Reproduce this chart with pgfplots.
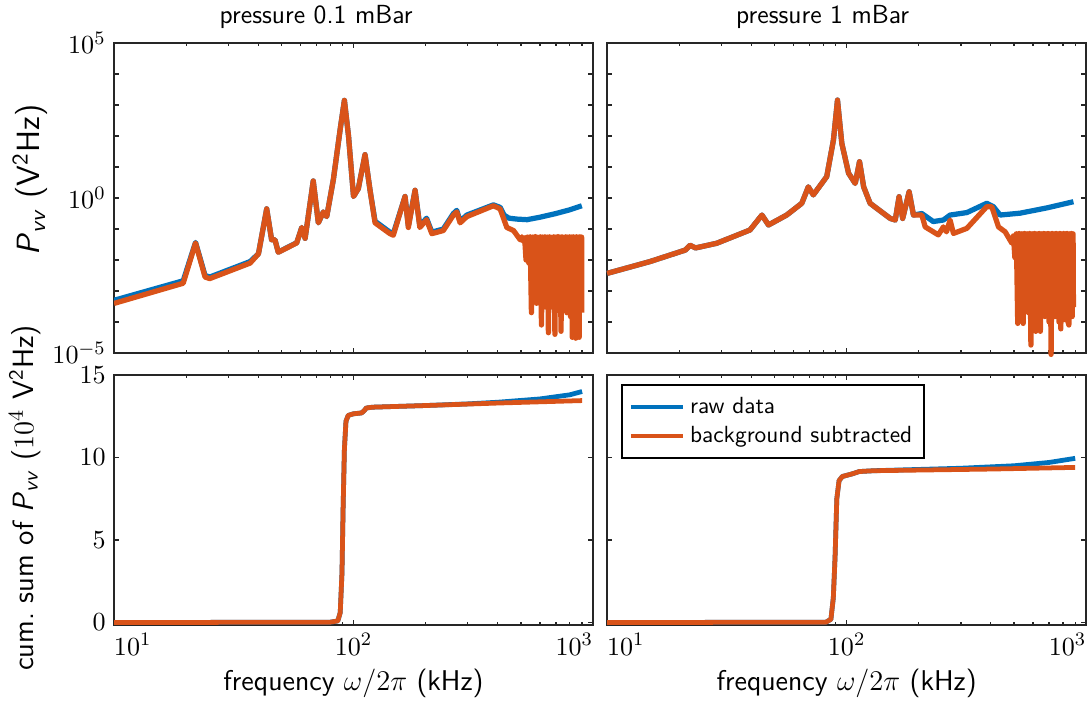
\documentclass[border=0pt]{standalone}
\usepackage{pgfplots}
\pgfplotsset{compat=1.18}
\usepgfplotslibrary{groupplots}
\renewcommand{\familydefault}{\sfdefault}
\definecolor{mblue}{rgb}{0,0.447,0.741}
\definecolor{morange}{rgb}{0.85,0.325,0.098}
\definecolor{axgray}{rgb}{0.15,0.15,0.15}

\begin{document}
\begin{tikzpicture}
\begin{groupplot}[
  group style={group size=2 by 2, horizontal sep=5.9pt, vertical sep=9.24pt},
  scale only axis, width=201.2pt,
  xmode=log, xmin=10, xmax=1000, xtick={10,100,1000},
  axis line style={axgray, line width=0.8pt},
  tick style={axgray, line width=0.5pt},
  tick align=inside, major tick length=2.1pt, minor tick length=1.3pt,
  tick label style={font=\fontsize{11}{13}\selectfont},
  every axis title shift=0pt,
  title style={anchor=center, font=\fontsize{11}{13}\selectfont},
  xlabel style={font=\fontsize{12}{14}\selectfont},
]

% ---- 0.1 mBar: spectral density ----
\nextgroupplot[
  ymode=log, ymin=1e-5, ymax=1e5, height=130.2pt,
  ytick={1e-5,1e-4,1e-3,1e-2,1e-1,1,10,100,1e3,1e4,1e5},
  yminorticks=false, xticklabels={},
  yticklabels={$10^{-5}$,,,,,$10^{0}$,,,,,$10^{5}$},
  title={pressure 0.1 mBar},
  title style={at={(axis description cs:0.422,1.084)}},
  ylabel={\textit{P}\textsubscript{\textit{vv}} (V\textsuperscript{2}Hz)},
  ylabel style={at={(axis description cs:-0.175,0.558)}, anchor=center,
    font=\fontsize{13.5}{16}\selectfont}]
\coordinate (tl) at (rel axis cs:0,1);
\addplot[mblue, line width=2.2pt, line join=round] table {
10 5.01e-4
19.45 2.14e-3
21.9 3.7e-2
24.0 3.16e-3
25.1 2.82e-3
37.0 8.9e-3
40.1 1.6e-2
43.4 0.447
45.5 4.5e-2
47.0 4.5e-2
48.5 1.8e-2
57.9 3.6e-2
60.8 0.112
62.8 5.0e-2
67.9 3.55
71.3 0.158
74.8 0.355
77.3 0.251
82.4 3.98
87.9 158.5
91.6 1413
95.3 100
100 1.12
104.7 2.0
111.7 25.1
117.2 1.78
123.0 0.178
141.9 7.9e-2
146.6 7.1e-2
164.1 1.12
169.4 0.126
180.7 1.78
189.2 0.126
201.8 0.224
212.3 7.9e-2
237.1 0.1
261.2 0.316
269.8 0.4
278.6 0.178
297.2 0.282
383.7 0.60
409.3 0.50
425 0.282
445 0.224
480 0.209
530 0.200
600 0.240
700 0.316
800 0.417
897.5 0.562
};
\addplot[morange, line width=2.2pt, line join=round] table {
10 3.98e-4
19.45 1.78e-3
21.9 3.55e-2
24.0 2.82e-3
25.1 2.51e-3
37.0 7.94e-3
40.1 1.585e-2
43.4 0.447
45.5 4.47e-2
47.0 4.47e-2
48.5 1.78e-2
57.9 3.55e-2
60.8 0.112
62.8 5.01e-2
67.9 3.55
71.3 0.158
74.8 0.355
77.3 0.251
82.4 3.98
87.9 158.5
91.6 1413
95.3 100
100 1.12
104.7 2.0
111.7 25.1
117.2 1.78
123.0 0.158
141.9 7.08e-2
146.6 6.31e-2
164.1 1.12
169.4 0.112
180.7 1.78
189.2 0.112
201.8 0.200
212.3 7.08e-2
237.1 8.91e-2
261.2 0.282
269.8 0.355
278.6 0.158
297.2 0.251
383.7 0.562
409.3 0.447
436.5 0.112
465.6 8.91e-2
496.6 4.47e-2
504 0.056
511 0.040
518 0.052
525 0.010
532 0.055
539 0.008
546 0.056
553 2.0e-4
560 0.055
567 6e-4
574 0.057
581 4e-4
588 0.054
595 1e-3
602 0.056
609 8e-5
616 0.055
623 5e-4
630 0.056
637 3e-4
644 0.055
651 4.5e-5
658 0.056
665 6e-4
672 0.054
679 3e-4
686 0.056
693 4e-5
700 0.055
707 1e-3
714 0.057
721 5e-4
728 0.055
735 5e-5
742 0.056
749 8e-4
756 0.054
763 3e-4
770 0.056
777 2e-4
784 0.055
791 7e-4
798 0.056
805 1.5e-4
812 0.055
819 3.2e-5
826 0.056
833 6e-4
840 0.055
847 3e-5
854 0.056
861 5e-4
868 0.055
875 3.2e-5
882 0.056
889 4e-4
896 0.055
898 2e-4
};

% ---- 1 mBar: spectral density ----
\nextgroupplot[
  ymode=log, ymin=1e-5, ymax=1e5, height=130.2pt,
  ytick={1e-5,1e-4,1e-3,1e-2,1e-1,1,10,100,1e3,1e4,1e5},
  yminorticks=false, xticklabels={}, yticklabels={}, clip=false,
  title={pressure 1 mBar},
  title style={at={(axis description cs:0.45,1.084)}}]
\addplot[mblue, line width=2.2pt, line join=round] table {
10 3.7e-3
15.1 8.9e-3
21.2 2.09e-2
22.2 3.0e-2
23.4 2.45e-2
28.7 3.47e-2
39.5 9.3e-2
44.3 0.282
47.2 0.135
56.2 0.282
65.0 0.676
69.2 2.29
72.6 1.26
82.6 4.9
88.1 74.1
91.6 1445
95.5 57.5
101.9 6.31
108.6 2.95
113.2 14.8
117.8 2.29
125.3 0.676
152.1 0.219
159.6 0.195
165.6 1.10
171.4 0.219
182.4 1.585
190.1 0.282
206.1 0.316
230 0.174
253.5 0.195
270.4 0.282
317.7 0.339
384.6 0.676
410 0.525
437.5 0.282
529.7 0.324
685 0.479
885 0.759
};
\addplot[morange, line width=2.2pt, line join=round] table {
10 3.7e-3
15.1 8.9e-3
21.2 2.09e-2
22.2 3.0e-2
23.4 2.45e-2
28.7 3.47e-2
39.5 9.3e-2
44.3 0.282
47.2 0.135
56.2 0.282
65.0 0.676
69.2 2.29
72.6 1.26
82.6 4.9
88.1 74.1
91.6 1445
95.5 57.5
101.9 6.31
108.6 2.95
113.2 14.8
117.8 2.29
125.3 0.676
152.1 0.219
159.6 0.195
165.6 1.10
171.4 0.219
182.4 1.585
190.1 0.282
206.1 0.282
212.8 0.117
241.5 6.46e-2
253.5 0.117
261.2 8.1e-2
270.4 0.195
279.3 7.2e-2
317.7 0.105
384.6 0.525
403.6 0.525
430.5 0.117
459.2 8.1e-2
489.8 3.47e-2
497 0.060
504 0.012
511 0.070
518 9e-5
525 0.072
532 5e-4
539 0.070
546 9e-5
553 0.072
560 3e-4
567 0.070
574 2e-4
581 0.072
588 1.8e-5
595 0.070
602 3e-4
609 0.072
616 5e-5
623 0.070
630 2e-4
637 0.072
644 5e-5
651 0.070
658 3e-4
665 0.072
672 1.5e-4
679 0.070
686 2.5e-4
693 0.072
700 1e-4
707 0.070
714 9e-6
721 0.072
728 2e-4
735 0.070
742 1.5e-4
749 0.072
756 2.5e-4
763 0.070
770 1e-4
777 0.072
784 6e-5
791 0.070
798 2e-4
805 0.072
812 1.2e-4
819 0.070
826 2e-4
833 0.072
840 1e-4
847 8e-5
854 0.070
861 2e-4
868 0.072
875 1.5e-4
882 0.070
885 3e-4
};

% ---- 0.1 mBar: cumulative sum ----
\nextgroupplot[
  ymin=-0.15, ymax=15, ytick={0,5,10,15}, height=105pt,
  xticklabels={\makebox[0pt][l]{$10^{1}$},$10^{2}$,\makebox[0pt][r]{$10^{3}$}},
  xlabel={frequency $\omega/2\pi$ (kHz)},
  xlabel style={at={(axis description cs:0.5,-0.232)}, anchor=center},
  ylabel={cum.\ sum of \textit{P}\textsubscript{\textit{vv}} ($10^4$ V\textsuperscript{2}Hz)},
  ylabel style={at={(axis description cs:-0.186,0.508)}, anchor=center,
    font=\fontsize{12.3}{14.5}\selectfont}]
\addplot[mblue, line width=2pt, line join=round] table {
10 0
80 0.02
86 0.1
88 0.6
89.5 3
90.5 7
91.6 10.5
93 12.2
95 12.55
100 12.65
108 12.7
111 12.85
113 13.0
120 13.05
200 13.15
300 13.25
400 13.35
600 13.55
800 13.8
900 14.0
};
\addplot[morange, line width=2pt, line join=round] table {
10 0
80 0.02
86 0.1
88 0.6
89.5 3
90.5 7
91.6 10.5
93 12.2
95 12.55
100 12.65
108 12.7
111 12.85
113 13.0
120 13.05
200 13.15
400 13.3
900 13.45
};

% ---- 1 mBar: cumulative sum ----
\nextgroupplot[
  ymin=-0.15, ymax=15, ytick={0,5,10,15}, height=105pt, yticklabels={},
  xticklabels={\makebox[0pt][l]{$10^{1}$},$10^{2}$,\makebox[0pt][r]{$10^{3}$}},
  xlabel={frequency $\omega/2\pi$ (kHz)},
  xlabel style={at={(axis description cs:0.5,-0.232)}, anchor=center},
  legend style={at={(axis description cs:0.029,0.964)}, anchor=north west,
    draw=black, line width=0.8pt, font=\fontsize{9.8}{11.5}\selectfont,
    cells={anchor=west}, inner xsep=3pt, inner ysep=3pt},
  legend image code/.code={\draw[#1, line width=1.6pt] (0pt,0pt) -- (22pt,0pt);}]
\addplot[mblue, line width=2pt, line join=round] table {
10 0
82 0.02
86 0.2
88 1.5
89.5 4
91 7.5
93 8.6
96 8.85
105 9.0
113 9.15
130 9.2
300 9.35
500 9.5
700 9.7
900 9.95
};
\addlegendentry{raw data}
\addplot[morange, line width=2pt, line join=round] table {
10 0
82 0.02
86 0.2
88 1.5
89.5 4
91 7.5
93 8.6
96 8.85
105 9.0
113 9.15
130 9.2
400 9.3
900 9.4
};
\addlegendentry{background subtracted}
\end{groupplot}
\pgfresetboundingbox
\path ([shift={(-47.88pt,18.06pt)}]tl) rectangle ++(457.8pt,-295.68pt);
\end{tikzpicture}
\end{document}
